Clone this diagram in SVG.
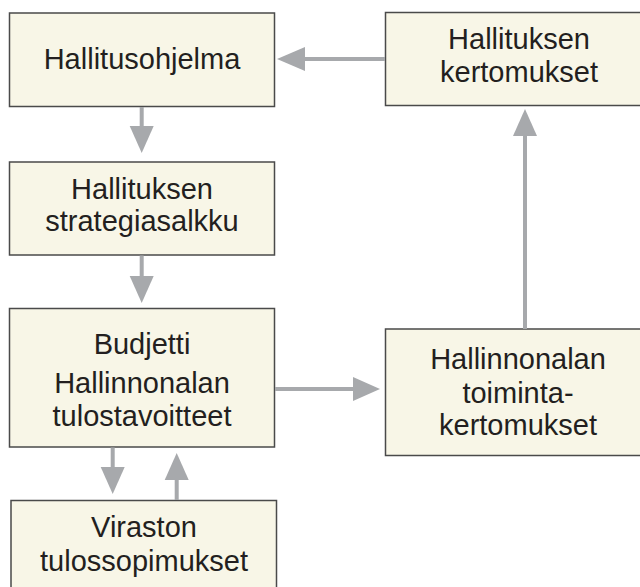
<svg xmlns="http://www.w3.org/2000/svg" width="640" height="587" viewBox="0 0 640 587">
<style>
.box{fill:#f8f6e7;stroke:#4a4a4a;stroke-width:1.5}
.t{font-family:"Liberation Sans",Arial,sans-serif;font-size:29px;fill:#231f20;text-anchor:middle}
.c{stroke:#a7a9ac;stroke-width:4;fill:none}
.h{fill:#a7a9ac}
</style>
<rect width="640" height="587" fill="#ffffff"/>
<g id="n1"><rect class="box" x="9.5" y="13" width="265" height="93.5"/><text class="t" x="142" y="68.5">Hallitusohjelma</text></g>
<g id="n2"><rect class="box" x="385.5" y="12.5" width="270" height="93"/><text class="t" x="519" y="49">Hallituksen</text><text class="t" x="519" y="82">kertomukset</text></g>
<g id="n3"><rect class="box" x="9.5" y="162" width="265" height="93"/><text class="t" x="142" y="198.5">Hallituksen</text><text class="t" x="142" y="231">strategiasalkku</text></g>
<g id="n4"><rect class="box" x="9.5" y="308.5" width="265" height="138.5"/><text class="t" x="142" y="353.5">Budjetti</text><text class="t" x="142" y="392.5">Hallinnonalan</text><text class="t" x="142" y="426">tulostavoitteet</text></g>
<g id="n5"><rect class="box" x="11" y="500.5" width="265.5" height="100"/><text class="t" x="144" y="537">Viraston</text><text class="t" x="144" y="571">tulossopimukset</text></g>
<g id="n6"><rect class="box" x="385.5" y="329" width="270" height="126.5"/><text class="t" x="518" y="368.5">Hallinnonalan</text><text class="t" x="518" y="402.5">toiminta-</text><text class="t" x="518" y="435">kertomukset</text></g>
<g id="connectors">
<line class="c" x1="385" y1="59" x2="302" y2="59"/><polygon class="h" points="277,59 305,47 305,71"/>
<line class="c" x1="141.7" y1="107" x2="141.7" y2="128"/><polygon class="h" points="141.7,153 129.7,126 153.7,126"/>
<line class="c" x1="141.7" y1="255.5" x2="141.7" y2="278"/><polygon class="h" points="141.7,303 129.7,276 153.7,276"/>
<line class="c" x1="275" y1="389" x2="355" y2="389"/><polygon class="h" points="380,389 353,377 353,401"/>
<line class="c" x1="525" y1="329" x2="525" y2="134"/><polygon class="h" points="525,109 513,136 537,136"/>
<line class="c" x1="112.7" y1="447.5" x2="112.7" y2="469"/><polygon class="h" points="112.7,494 100.7,467 124.7,467"/>
<line class="c" x1="176.7" y1="500" x2="176.7" y2="478"/><polygon class="h" points="176.7,453 164.7,480 188.7,480"/>
</g>
</svg>
